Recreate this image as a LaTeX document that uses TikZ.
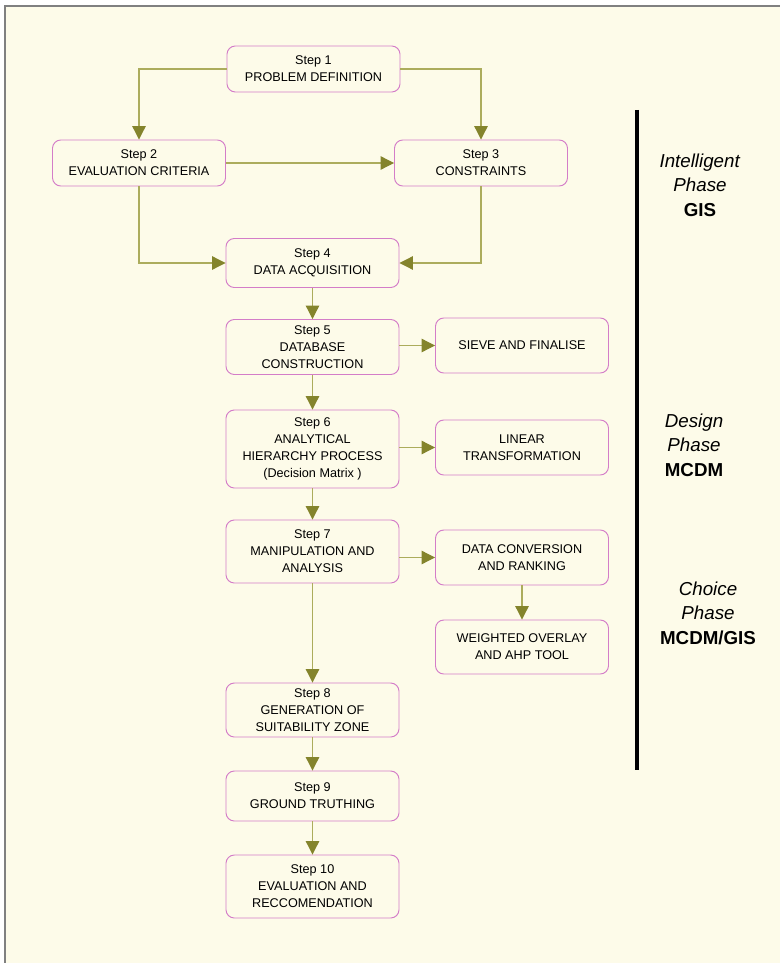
\documentclass[tikz,border=0pt]{standalone}
\usepackage{xcolor}
\usepackage{fontspec}
\setmainfont{Liberation Sans}
\usetikzlibrary{arrows.meta}
\definecolor{cream}{RGB}{253,251,233}
\definecolor{boxpink}{RGB}{212,125,200}
\definecolor{lineolive}{RGB}{172,172,92}
\definecolor{headolive}{RGB}{132,132,44}

\begin{document}
\begin{tikzpicture}[x=0.03cm,y=-0.03cm]
          \tikzstyle{every node}=[align=center, font=\fontsize{10.8}{14.6}\selectfont]
          \tikzstyle{stepbox}=[rectangle, draw=boxpink, line width=0.8pt, fill=cream, rounded corners=0.25cm, minimum width=5.19cm, inner sep=1pt]
          \tikzstyle{flow}=[draw=lineolive, line width=1pt, -{Triangle[length=0.4cm, width=0.4cm, fill=headolive, color=headolive]}]
          \tikzstyle{phase}=[font=\fontsize{16}{21}\selectfont]
          \useasboundingbox (0,0) rectangle (780,963);
          \fill[cream] (5,6) rectangle (780,963);
          \draw[gray, line width=1pt] (5,963) -- (5,6) -- (780,6);
          \node (S1)[stepbox, minimum height=46*0.03cm] at (313.5,69) {Step 1\\PROBLEM DEFINITION};
          \node (S2)[stepbox, minimum height=46*0.03cm] at (139,163) {Step 2\\EVALUATION CRITERIA};
          \node (S3)[stepbox, minimum height=46*0.03cm] at (481,163) {Step 3\\CONSTRAINTS};
          \node (S4)[stepbox, minimum height=49*0.03cm] at (312.5,263) {Step 4\\DATA ACQUISITION};
          \node (S5)[stepbox, minimum height=55*0.03cm] at (312.5,347) {Step 5\\DATABASE\\CONSTRUCTION};
          \node (Sieve)[stepbox, minimum height=55*0.03cm] at (522,345.5) {SIEVE AND FINALISE};
          \node (S6)[stepbox, minimum height=78*0.03cm] at (312.5,449) {Step 6\\ANALYTICAL\\HIERARCHY PROCESS\\(Decision Matrix )};
          \node (Linear)[stepbox, minimum height=55*0.03cm] at (522,447.5) {LINEAR\\TRANSFORMATION};
          \node (S7)[stepbox, minimum height=63*0.03cm] at (312.5,551.5) {Step 7\\MANIPULATION AND\\ANALYSIS};
          \node (Conv)[stepbox, minimum height=55*0.03cm] at (522,557.5) {DATA CONVERSION\\AND RANKING};
          \node (Overlay)[stepbox, minimum height=54*0.03cm] at (522,647) {WEIGHTED OVERLAY\\AND AHP TOOL};
          \node (S8)[stepbox, minimum height=54*0.03cm] at (312.5,710) {Step 8\\GENERATION OF\\SUITABILITY ZONE};
          \node (S9)[stepbox, minimum height=50*0.03cm] at (312.5,796) {Step 9\\GROUND TRUTHING};
          \node (S10)[stepbox, minimum height=63*0.03cm] at (312.5,886.5) {Step 10\\EVALUATION AND\\RECCOMENDATION};
          \draw[flow] (S1.west) -| (S2.north);
          \draw[flow] (S1.east) -| (S3.north);
          \draw[flow] (S2.east) -- (S3.west);
          \draw[flow] (S2.south) |- (S4.west);
          \draw[flow] (S3.south) |- (S4.east);
          \draw[flow] (S4.south) -- (S5.north);
          \draw[flow] (S5.east |- Sieve.west) -- (Sieve.west);
          \draw[flow] (S5.south) -- (S6.north);
          \draw[flow] (S6.east |- Linear.west) -- (Linear.west);
          \draw[flow] (S6.south) -- (S7.north);
          \draw[flow] (S7.east |- Conv.west) -- (Conv.west);
          \draw[flow] (Conv.south) -- (Overlay.north);
          \draw[flow] (S7.south) -- (S8.north);
          \draw[flow] (S8.south) -- (S9.north);
          \draw[flow] (S9.south) -- (S10.north);
          \coordinate (BarTop) at (637,110);
          \coordinate (BarEnd) at (637,770);
          \draw[line width=3pt] (BarTop) -- (BarEnd);
          \node (Intelligent)[phase] at (700,185) {\textit{Intelligent}\\\textit{Phase}\\\textbf{GIS}};
          \node (Design)[phase] at (694,445) {\textit{Design}\\\textit{Phase}\\\textbf{MCDM}};
          \node (Choice)[phase] at (708,613) {\textit{Choice}\\\textit{Phase}\\\textbf{MCDM/GIS}};
        \end{tikzpicture}
\end{document}
